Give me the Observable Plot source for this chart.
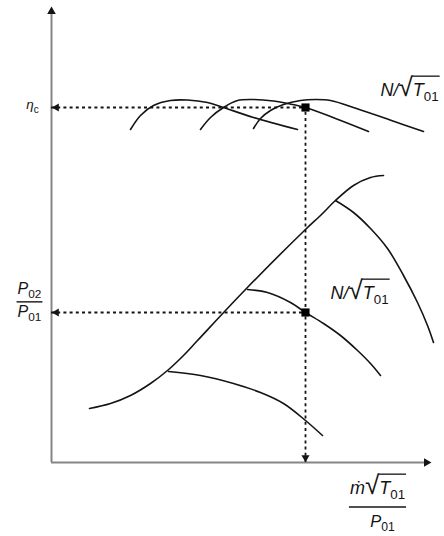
<!DOCTYPE html>
<html>
<head>
<meta charset="utf-8">
<script src="https://cdn.jsdelivr.net/npm/d3@7"></script>
<script src="https://cdn.jsdelivr.net/npm/@observablehq/plot@0.6"></script>
<style>
  html, body { margin: 0; padding: 0; background: #fff; }
  #chart svg { display: block; }
</style>
</head>
<body>
<div id="chart"></div>
<script>
// ---- Data (schematic axis units) ----
// Efficiency characteristics (three speed lines)
const eff1X = [79, 89, 102, 119, 136, 156, 172, 202, 246];
const eff1Y = [333, 347, 357, 362, 362.5, 360, 355, 345, 333];
const eff2X = [149, 159, 172, 186, 202, 222, 236, 254, 284, 317];
const eff2Y = [333, 345, 355, 362, 363, 361.5, 359, 355, 344, 331];
const eff3X = [202, 209, 219, 232, 249, 264, 279, 305, 340, 372];
const eff3Y = [334, 344, 352, 358, 362, 363, 362, 354, 342, 331];

// Surge line
const surgeX = [38, 59, 79, 99, 116, 132, 146, 194, 254, 269, 284, 302, 319, 332];
const surgeY = [54, 59, 67, 79, 92, 107, 122, 173, 233, 247, 262, 277, 285, 287];

// Pressure-ratio speed lines
const spdAX = [117, 149, 182, 209, 232, 254, 271];
const spdAY = [91, 87, 79, 70, 59, 42, 27];
const spdBX = [196, 216, 239, 254, 272, 289, 306, 319, 329];
const spdBY = [173, 170, 160, 150, 139, 127, 112, 99, 87];
const spdCX = [284, 302, 319, 336, 352, 366, 376, 382];
const spdCY = [262, 250, 234, 214, 187, 160, 137, 120];

// Operating point
const opX = 254, opEff = 355, opPR = 150;

// Axis extents
const xMax = 380, yMax = 454;
const xAxisEnd = 373, yAxisEnd = 449;

// Labels (markup: _ = subscript, √{...} = radical with bar)
const labelEta = "η_c";
const labelYNum = "P_02", labelYDen = "P_01";
const labelSpeed = "N/√{T_01}";
const labelXNum = "ṁ√{T_01}", labelXDen = "P_01";

// label anchor positions (axis units)
const etaPos = {x: -19, y: 358};
const yNumPos = {x: -22, y: 174}, yDenPos = {x: -22, y: 151};
const speedTopPos = {x: 329, y: 372};
const speedMidPos = {x: 279, y: 169};
const xNumPos = {x: 326, y: -26}, xDenPos = {x: 331, y: -59};

// ---- build tables ----
function series(name, xs, ys) { return xs.map((x, i) => ({series: name, x, y: ys[i]})); }
const effLines = [...series("e1", eff1X, eff1Y), ...series("e2", eff2X, eff2Y), ...series("e3", eff3X, eff3Y)];
const prLines = [...series("surge", surgeX, surgeY), ...series("A", spdAX, spdAY),
                 ...series("B", spdBX, spdBY), ...series("C", spdCX, spdCY)];

const ink = "#141414";
const axisGray = "#858585";
const font = "'Liberation Sans', Arial, 'DejaVu Sans', sans-serif";

const plot = Plot.plot({
  width: 444,
  height: 536,
  marginLeft: 51,
  marginRight: 13,
  marginTop: 8,
  marginBottom: 74,
  x: {domain: [0, xMax], axis: null},
  y: {domain: [0, yMax], axis: null},
  style: {background: "#fff", overflow: "visible", fontFamily: font},
  marks: [
    // axes
    Plot.ruleX([0], {y1: 0, y2: yAxisEnd, stroke: axisGray, strokeWidth: 2}),
    Plot.ruleY([0], {x1: 0, x2: xAxisEnd, stroke: axisGray, strokeWidth: 2}),
    Plot.dot([{x: 0, y: yAxisEnd}], {x: "x", y: "y", symbol: "triangle", r: 3.2, fill: ink, stroke: "none", dy: -2}),
    Plot.dot([{x: xAxisEnd, y: 0}], {x: "x", y: "y", symbol: "triangle", r: 3.2, fill: ink, stroke: "none", rotate: 90, dx: 2}),

    // dashed guides
    Plot.ruleY([opEff], {x1: 0, x2: opX, stroke: ink, strokeWidth: 1.8, strokeDasharray: "3,3.2"}),
    Plot.ruleY([opPR], {x1: 0, x2: opX, stroke: ink, strokeWidth: 1.8, strokeDasharray: "3,3.2"}),
    Plot.ruleX([opX], {y1: 0, y2: opEff, stroke: ink, strokeWidth: 1.8, strokeDasharray: "3,3.2"}),
    Plot.dot([{x: 0, y: opEff}, {x: 0, y: opPR}], {x: "x", y: "y", symbol: "triangle", r: 3, fill: ink, stroke: "none", rotate: -90, dx: 5}),
    Plot.dot([{x: opX, y: 0}], {x: "x", y: "y", symbol: "triangle", r: 3, fill: ink, stroke: "none", rotate: 180, dy: -5}),

    // characteristic curves
    Plot.line(effLines, {x: "x", y: "y", z: "series", curve: "catmull-rom", stroke: ink, strokeWidth: 1.6}),
    Plot.line(prLines, {x: "x", y: "y", z: "series", curve: "catmull-rom", stroke: ink, strokeWidth: 1.6}),

    // operating point
    Plot.dot([{x: opX, y: opEff}, {x: opX, y: opPR}], {x: "x", y: "y", symbol: "square", r: 4.6, fill: "#000", stroke: "none"}),

    // labels
    Plot.text([{...etaPos, t: labelEta}], {x: "x", y: "y", text: "t", fontSize: 13.5, fill: ink, textAnchor: "middle", ariaDescription: "lbl-eta"}),
    Plot.text([{...yNumPos, t: labelYNum}], {x: "x", y: "y", text: "t", fontSize: 16, fill: ink, textAnchor: "middle", ariaDescription: "lbl-ynum"}),
    Plot.text([{...yDenPos, t: labelYDen}], {x: "x", y: "y", text: "t", fontSize: 16, fill: ink, textAnchor: "middle", ariaDescription: "lbl-yden"}),
    Plot.text([{...speedTopPos, t: labelSpeed}, {...speedMidPos, t: labelSpeed}], {x: "x", y: "y", text: "t", fontSize: 18, fill: ink, textAnchor: "start", ariaDescription: "lbl-speed"}),
    Plot.text([{...xNumPos, t: labelXNum}], {x: "x", y: "y", text: "t", fontSize: 18, fill: ink, textAnchor: "middle", ariaDescription: "lbl-xnum"}),
    Plot.text([{...xDenPos, t: labelXDen}], {x: "x", y: "y", text: "t", fontSize: 16.5, fill: ink, textAnchor: "middle", ariaDescription: "lbl-xden"})
  ]
});

document.getElementById("chart").appendChild(plot);
const svg = d3.select(plot);

// ---- typeset the mini-markup inside the text marks ----
function typeset(textEl) {
  const s = textEl.textContent;
  const fs = parseFloat(getComputedStyle(textEl).fontSize) || 16;
  const t = d3.select(textEl);
  t.text(null);
  let i = 0, shift = 0, idx = 0;
  const radicals = [];
  function add(str, opts) {
    const sp = t.append("tspan").text(str);
    let dy = 0;
    if (opts.sub) { dy = 0.28 * fs - shift; shift = 0.28 * fs; sp.attr("font-size", 0.74 * fs).attr("font-style", "normal"); }
    else { dy = -shift; shift = 0; sp.attr("font-style", opts.upright ? "normal" : "italic"); if (opts.size) sp.attr("font-size", opts.size); }
    if (dy) sp.attr("dy", dy);
    const start = idx; idx += [...str].length;
    return {start, end: idx - 1};
  }
  function readSub() {
    let sub = "";
    while (i < s.length && /[0-9a-z]/.test(s[i])) sub += s[i++];
    return sub;
  }
  while (i < s.length) {
    const c = s[i];
    if (c === "_") {
      i++;
      add(readSub(), {sub: true});
    } else if (c === "√") {
      const r = add("√", {upright: true, size: 1.45 * fs});
      i++;
      if (s[i] === "{") {
        i++;
        const rad = {rad: r.start, last: r.start};
        while (i < s.length && s[i] !== "}") {
          if (s[i] === "_") { i++; rad.last = add(readSub(), {sub: true}).end; }
          else {
            let run = "";
            while (i < s.length && !"_}".includes(s[i])) run += s[i++];
            rad.last = add(run, {}).end;
          }
        }
        i++;
        radicals.push(rad);
      }
    } else {
      let run = "";
      while (i < s.length && !"_√".includes(s[i])) run += s[i++];
      add(run, {upright: /^[0-9]+$/.test(run)});
    }
  }
  // vinculum bars over radicals
  radicals.forEach(rad => {
    const r = textEl.getExtentOfChar(rad.rad);
    const e = textEl.getExtentOfChar(rad.last);
    const g = d3.select(textEl.parentNode).append("g");
    const tr = textEl.getAttribute("transform");
    if (tr) g.attr("transform", tr);
    const yTop = r.y + r.height * 0.13;
    g.append("line")
      .attr("x1", r.x + r.width - 0.8).attr("x2", e.x + e.width + 1)
      .attr("y1", yTop).attr("y2", yTop)
      .attr("stroke", ink).attr("stroke-width", 1.3);
  });
}
svg.selectAll("g[aria-description^='lbl-'] text").each(function () { typeset(this); });

// fraction bars
function fracBar(numSel, denSel) {
  const n = svg.select(numSel).node(), d = svg.select(denSel).node();
  if (!n || !d) return;
  const nb = n.getBoundingClientRect(), db = d.getBoundingClientRect();
  const sb = plot.getBoundingClientRect();
  const x1 = Math.min(nb.left, db.left) - sb.left - 1;
  const x2 = Math.max(nb.right, db.right) - sb.left + 1;
  const y = (nb.bottom + db.top) / 2 - sb.top;
  svg.append("line").attr("x1", x1).attr("x2", x2).attr("y1", y).attr("y2", y)
    .attr("stroke", ink).attr("stroke-width", 1.4);
}
fracBar("g[aria-description='lbl-ynum'] text", "g[aria-description='lbl-yden'] text");
fracBar("g[aria-description='lbl-xnum'] text", "g[aria-description='lbl-xden'] text");
</script>
</body>
</html>
